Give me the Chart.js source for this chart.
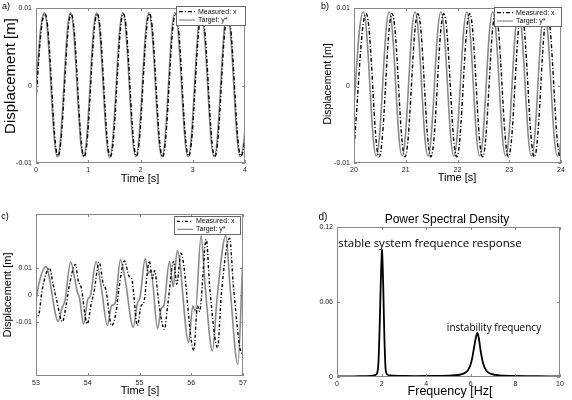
<!DOCTYPE html>
<html>
<head>
<meta charset="utf-8">
<script src="https://cdn.jsdelivr.net/npm/chart.js@4.4.1/dist/chart.umd.min.js"></script>
<style>
html, body { margin: 0; padding: 0; background: #fff; }
#page { position: relative; width: 572px; height: 400px; overflow: hidden; }
.panel { position: absolute; }
</style>
</head>
<body>
<div id="page">
  <div class="panel" style="left:0;top:0;width:290px;height:200px"><canvas id="chartA"></canvas></div>
  <div class="panel" style="left:290px;top:0;width:282px;height:200px"><canvas id="chartB"></canvas></div>
  <div class="panel" style="left:0;top:200px;width:290px;height:200px"><canvas id="chartC"></canvas></div>
  <div class="panel" style="left:290px;top:200px;width:282px;height:200px"><canvas id="chartD"></canvas></div>
</div>
<script>
// ---- panel a: 0..4 s, peaks and troughs
var aTargetT = [-0.09, 0.16, 0.41, 0.66, 0.91, 1.16, 1.41, 1.66, 1.91, 2.16, 2.41, 2.66, 2.91, 3.16, 3.41, 3.66, 3.91, 4.16];
var aTargetY = [-0.0092, 0.0094, -0.0092, 0.0094, -0.0092, 0.0094, -0.0093, 0.0094, -0.0092, 0.0094, -0.0092, 0.0094, -0.0092, 0.0093, -0.0092, 0.0094, -0.0092, 0.0094];
var aMeasT = [-0.078, 0.172, 0.422, 0.672, 0.922, 1.172, 1.422, 1.672, 1.922, 2.172, 2.422, 2.672, 2.922, 3.172, 3.422, 3.672, 3.922, 4.172];
var aMeasY = [-0.0091, 0.0093, -0.0091, 0.0093, -0.0092, 0.0093, -0.0092, 0.0093, -0.0091, 0.0093, -0.0092, 0.0093, -0.0091, 0.0093, -0.0092, 0.0093, -0.0091, 0.0093];
var aXTicks = [0, 1, 2, 3, 4];

// ---- panel b: 20..24 s, measured lags the target
var bTargetT = [19.93, 20.18, 20.43, 20.68, 20.93, 21.18, 21.43, 21.68, 21.93, 22.18, 22.43, 22.68, 22.93, 23.18, 23.43, 23.68, 23.93, 24.18];
var bTargetY = [-0.0091, 0.0095, -0.0091, 0.0095, -0.0091, 0.0095, -0.0091, 0.0095, -0.0091, 0.0095, -0.0091, 0.0095, -0.0091, 0.0095, -0.0091, 0.0095, -0.0091, 0.0095];
var bMeasT = [19.985, 20.235, 20.485, 20.735, 20.985, 21.235, 21.485, 21.735, 21.985, 22.235, 22.485, 22.735, 22.985, 23.235, 23.485, 23.735, 23.985, 24.235];
var bMeasY = [-0.0092, 0.0093, -0.0092, 0.0093, -0.0092, 0.0093, -0.0092, 0.0093, -0.0092, 0.0093, -0.0092, 0.0093, -0.0092, 0.0093, -0.0092, 0.0093, -0.0092, 0.0093];
var bXTicks = [20, 21, 22, 23, 24];

// ---- panel c: 53..57 s, growing instability
var cTargetT = [52.93, 53.0, 53.06, 53.19, 53.43, 53.5, 53.56, 53.67, 53.75, 53.8, 53.84, 53.92, 54.0, 54.05, 54.16, 54.26, 54.38, 54.46, 54.53, 54.63, 54.72, 54.88, 54.96, 55.01, 55.11, 55.17, 55.22, 55.35, 55.42, 55.47, 55.58, 55.65, 55.73, 55.95, 56.03, 56.08, 56.19, 56.27, 56.41, 56.5, 56.67, 56.75, 56.9, 57.0, 57.05];
var cTargetY = [-0.008, -0.002, 0.0045, 0.0105, -0.0098, -0.005, -0.002, 0.0122, 0.006, 0.001, -0.001, -0.0108, -0.0016, -0.0004, 0.0124, 0.003, -0.0113, -0.004, -0.003, 0.013, 0.006, -0.012, -0.003, -0.001, 0.0135, 0.008, 0.009, -0.0125, -0.005, -0.004, 0.0125, 0.003, 0.0165, -0.0175, -0.004, -0.006, 0.0219, 0.003, -0.0207, -0.001, 0.022, 0.003, -0.0257, 0.013, 0.02];
var cMeasT = [52.95, 53.0, 53.05, 53.12, 53.26, 53.33, 53.4, 53.51, 53.58, 53.64, 53.76, 53.82, 53.87, 53.99, 54.07, 54.12, 54.22, 54.3, 54.35, 54.46, 54.55, 54.6, 54.71, 54.8, 54.85, 54.96, 55.03, 55.08, 55.19, 55.25, 55.29, 55.38, 55.48, 55.55, 55.66, 55.72, 55.8, 56.05, 56.12, 56.16, 56.29, 56.36, 56.51, 56.58, 56.74, 56.82, 56.975, 57.05];
var cMeasY = [-0.0085, -0.008, -0.0075, 0.002, 0.01, 0.004, -0.002, -0.0099, -0.004, 0.003, 0.0113, 0.005, 0.003, -0.0107, -0.003, 0.001, 0.0122, 0.004, 0.002, -0.0113, -0.006, 0.002, 0.0126, 0.0069, 0.006, -0.0113, -0.004, -0.003, 0.0126, 0.006, 0.009, -0.004, -0.0127, -0.003, 0.0124, 0.004, 0.0155, -0.0205, -0.004, -0.006, 0.0206, 0.002, -0.0195, 0.0, 0.021, 0.002, -0.0215, -0.01];
var cXTicks = [53, 54, 55, 56, 57];

var dispTicks = [-0.01, 0, 0.01];
var dispLabels = ["-0.01", "0", "0.01"];

// ---- panel d: power spectral density
var psdFreq = [0, 0.5, 1.0, 1.5, 1.7, 1.8, 1.86, 1.92, 1.97, 2.02, 2.07, 2.12, 2.18, 2.25, 2.4, 3, 4, 5, 5.5, 5.8, 5.95, 6.05, 6.15, 6.22, 6.29, 6.36, 6.44, 6.55, 6.7, 6.9, 7.3, 8, 9, 10];
var psdValue = [0.0005, 0.0005, 0.0006, 0.0009, 0.0015, 0.003, 0.012, 0.045, 0.08, 0.1015, 0.075, 0.035, 0.006, 0.002, 0.0012, 0.0008, 0.0008, 0.001, 0.0018, 0.004, 0.008, 0.014, 0.024, 0.031, 0.0355, 0.031, 0.021, 0.011, 0.005, 0.0025, 0.0013, 0.0008, 0.0006, 0.0005];
var dXTicks = [0, 2, 4, 6, 8, 10];
var dYTicks = [0, 0.06, 0.12];
var dYLabels = ["0", "0.06", "0.12"];

var SANS = "'Liberation Sans', Arial, Helvetica, sans-serif";
var GRAY = "#8a8a8a";

function pts(xs, ys) {
    return xs.map(function (x, i) { return { x: x, y: ys[i] }; });
}

function measured(xs, ys, dash) {
    return { label: "Measured: x", data: pts(xs, ys), borderColor: "#000", borderWidth: 1.4, borderDash: dash, tension: 0.4 };
}
function target(xs, ys) {
    return { label: "Target: y*", data: pts(xs, ys), borderColor: GRAY, borderWidth: 1.6, tension: 0.4 };
}

// frame, inward ticks, texts and the boxed legend
var framePlugin = {
    id: "frame",
    afterDatasetsDraw: function (chart) {
        var ctx = chart.ctx, a = chart.chartArea, xs = chart.scales.x, ys = chart.scales.y;
        ctx.save();
        ctx.strokeStyle = "#888";
        ctx.lineWidth = 1;
        ctx.beginPath();
        xs.ticks.forEach(function (t) {
            var px = Math.round(xs.getPixelForValue(t.value)) + 0.5;
            ctx.moveTo(px, a.bottom); ctx.lineTo(px, a.bottom - 3);
            ctx.moveTo(px, a.top); ctx.lineTo(px, a.top + 3);
        });
        ys.ticks.forEach(function (t) {
            var py = Math.round(ys.getPixelForValue(t.value)) + 0.5;
            ctx.moveTo(a.left, py); ctx.lineTo(a.left + 3, py);
            ctx.moveTo(a.right, py); ctx.lineTo(a.right - 3, py);
        });
        ctx.stroke();
        ctx.strokeRect(Math.round(a.left) + 0.5, Math.round(a.top) + 0.5, Math.round(a.width) - 1, Math.round(a.height) - 1);
        ctx.restore();
    },
    afterDraw: function (chart, args, o) {
        var ctx = chart.ctx;
        ctx.save();
        if (o.legendBox) {
            var L = o.legendBox;
            ctx.fillStyle = "#fff";
            ctx.fillRect(L.x, L.y, L.w, L.h);
            ctx.strokeStyle = "#666";
            ctx.lineWidth = 1;
            ctx.strokeRect(L.x + 0.5, L.y + 0.5, L.w, L.h);
            chart.data.datasets.forEach(function (ds, i) {
                var cy = L.y + L.h * (i === 0 ? 0.3 : 0.74);
                ctx.save();
                ctx.strokeStyle = ds.borderColor;
                ctx.lineWidth = 1.2;
                ctx.setLineDash(ds.borderDash || []);
                ctx.beginPath();
                ctx.moveTo(L.x + 3, cy);
                ctx.lineTo(L.x + 19, cy);
                ctx.stroke();
                ctx.restore();
                ctx.fillStyle = "#111";
                ctx.font = "7px " + SANS;
                ctx.textAlign = "left";
                ctx.textBaseline = "middle";
                ctx.fillText(ds.label, L.x + 22, cy);
            });
        }
        (o.texts || []).forEach(function (t) {
            ctx.save();
            ctx.translate(t.x, t.y);
            if (t.rot) ctx.rotate(t.rot);
            ctx.font = t.size + "px " + (t.family || SANS);
            ctx.fillStyle = "#000";
            ctx.textAlign = "center";
            ctx.textBaseline = "middle";
            ctx.fillText(t.text, 0, 0);
            ctx.restore();
        });
        ctx.restore();
    }
};
Chart.register(framePlugin);

function makePanel(id, p) {
    return new Chart(document.getElementById(id), {
        type: "line",
        data: { datasets: p.datasets },
        options: {
            responsive: true,
            maintainAspectRatio: false,
            animation: false,
            layout: { padding: { left: 0, top: p.area.top, right: p.W - p.area.right, bottom: 0 } },
            elements: { point: { radius: 0 } },
            plugins: {
                legend: { display: false },
                tooltip: { enabled: false },
                frame: { texts: p.texts, legendBox: p.legendBox }
            },
            scales: {
                x: {
                    type: "linear", min: p.xMin, max: p.xMax,
                    grid: { display: false, drawTicks: false }, border: { display: false },
                    ticks: { font: { family: SANS, size: 7 }, color: "#222", padding: 3, maxRotation: 0, autoSkip: false,
                             callback: function (v) { return String(v); } },
                    afterBuildTicks: function (s) { s.ticks = p.xTicks.map(function (v) { return { value: v }; }); },
                    afterFit: function (s) { s.height = p.H - p.area.bottom; }
                },
                y: {
                    type: "linear", min: p.yMin, max: p.yMax,
                    grid: { display: false, drawTicks: false }, border: { display: false },
                    ticks: { font: { family: SANS, size: 7 }, color: "#222", padding: 4, autoSkip: false,
                             callback: function (v, i) { return p.yLabels[i]; } },
                    afterBuildTicks: function (s) { s.ticks = p.yTicks.map(function (v) { return { value: v }; }); },
                    afterFit: function (s) { s.width = p.area.left; }
                }
            }
        }
    });
}

var HALF = -Math.PI / 2;

makePanel("chartA", {
    W: 290, H: 200, area: { left: 36, right: 245, top: 6, bottom: 163 },
    xMin: 0, xMax: 4, yMin: -0.01, yMax: 0.01,
    xTicks: aXTicks, yTicks: dispTicks, yLabels: dispLabels,
    datasets: [measured(aMeasT, aMeasY, [4, 2, 1, 2]), target(aTargetT, aTargetY)],
    legendBox: { x: 176, y: 6, w: 69, h: 19 },
    texts: [
        { text: "a)", x: 6, y: 7, size: 9 },
        { text: "Displacement [m]", x: 11, y: 76, size: 15, rot: HALF },
        { text: "Time [s]", x: 140, y: 179, size: 11 }
    ]
});

makePanel("chartB", {
    W: 282, H: 200, area: { left: 64, right: 271, top: 6, bottom: 163 },
    xMin: 20, xMax: 24, yMin: -0.01, yMax: 0.01,
    xTicks: bXTicks, yTicks: dispTicks, yLabels: dispLabels,
    datasets: [measured(bMeasT, bMeasY, [4, 2, 1, 2]), target(bTargetT, bTargetY)],
    legendBox: { x: 204, y: 7, w: 67, h: 19 },
    texts: [
        { text: "b)", x: 35, y: 7, size: 9 },
        { text: "Displacement [m]", x: 38, y: 84, size: 10.5, rot: HALF },
        { text: "Time [s]", x: 167, y: 178, size: 11 }
    ]
});

var cDatasets = [measured(cMeasT, cMeasY, [3, 2, 1, 2]), target(cTargetT, cTargetY)];
cDatasets.forEach(function (d) { d.cubicInterpolationMode = "monotone"; });

makePanel("chartC", {
    W: 290, H: 200, area: { left: 36, right: 243, top: 14, bottom: 176 },
    xMin: 53, xMax: 57, yMin: -0.03, yMax: 0.03,
    xTicks: cXTicks, yTicks: dispTicks, yLabels: dispLabels,
    datasets: cDatasets,
    legendBox: { x: 174, y: 16, w: 66, h: 18 },
    texts: [
        { text: "c)", x: 5, y: 17, size: 9 },
        { text: "Displacement [m]", x: 8, y: 95, size: 11, rot: HALF },
        { text: "Time [s]", x: 140, y: 191, size: 11 }
    ]
});

makePanel("chartD", {
    W: 282, H: 200, area: { left: 47, right: 270, top: 27, bottom: 177 },
    xMin: 0, xMax: 10, yMin: 0, yMax: 0.12,
    xTicks: dXTicks, yTicks: dYTicks, yLabels: dYLabels,
    datasets: [{ label: "PSD", data: pts(psdFreq, psdValue), borderColor: "#000", borderWidth: 1.8, tension: 0.2 }],
    texts: [
        { text: "d)", x: 33, y: 17, size: 10 },
        { text: "Power Spectral Density", x: 157, y: 20, size: 12 },
        { text: "Frequency [Hz[", x: 160, y: 192, size: 12.5 },
        { text: "stable system frequence response", x: 140, y: 44, size: 11.5, family: "'Open Sans', sans-serif" },
        { text: "instability frequency", x: 204, y: 128, size: 10, family: "'Open Sans', sans-serif" }
    ]
});
</script>
</body>
</html>
